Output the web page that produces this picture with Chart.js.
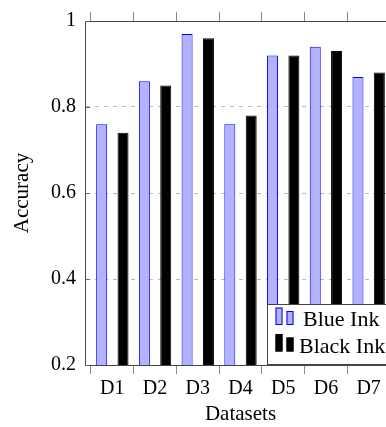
<!DOCTYPE html>
<html>
<head>
<meta charset="utf-8">
<script src="https://cdn.jsdelivr.net/npm/chart.js@4/dist/chart.umd.min.js"></script>
<style>
  html, body { margin: 0; padding: 0; background: #fff; overflow: hidden; }
  #wrap { width: 400px; height: 427px; }
</style>
</head>
<body>
<div id="wrap"><canvas id="accChart" width="400" height="427"></canvas></div>
<script>
const datasetNames = ["D1", "D2", "D3", "D4", "D5", "D6", "D7"];
const blueInk = [0.76, 0.86, 0.97, 0.76, 0.92, 0.94, 0.87];
const blackInk = [0.74, 0.85, 0.96, 0.78, 0.92, 0.93, 0.88];
const yTicks = [0.2, 0.4, 0.6, 0.8, 1];

const serif = "'Liberation Serif', 'Times New Roman', serif";
const xMin = -0.64, xMax = datasetNames.length - 1 + 0.64;

// tick marks sit between the categories; labels are shifted half a step onto them
const boundaries = datasetNames.map((d, i) => i - 0.5).concat([datasetNames.length - 0.5]);

function toPoints(values) {
    return values.map((v, i) => ({ x: i, y: v }));
}

// small inward ticks on the y axis
const innerTicks = {
    id: "innerTicks",
    afterDraw(chart) {
        const { ctx, chartArea } = chart;
        const y = chart.scales.y;
        ctx.save();
        ctx.strokeStyle = "#666";
        ctx.lineWidth = 1;
        y.ticks.forEach(t => {
            const py = Math.round(y.getPixelForValue(t.value)) + 0.5;
            ctx.beginPath();
            ctx.moveTo(chartArea.left, py);
            ctx.lineTo(chartArea.left + 5, py);
            ctx.stroke();
        });
        ctx.restore();
    }
};

// legend box in the lower right corner of the plot
const legendBox = {
    id: "legendBox",
    afterDraw(chart) {
        const { ctx, chartArea } = chart;
        const left = chartArea.right - 129;
        const top = chartArea.bottom - 61;
        ctx.save();
        ctx.fillStyle = "#fff";
        ctx.fillRect(left, top, 140, 60);
        ctx.strokeStyle = "#444";
        ctx.lineWidth = 1;
        ctx.strokeRect(left + 0.5, top + 0.5, 140, 60);
        const textX = [36, 32];
        chart.data.datasets.forEach((ds, i) => {
            const bottom = top + 21 + i * 26.5;
            ctx.fillStyle = ds.backgroundColor;
            ctx.strokeStyle = ds.borderColor;
            ctx.fillRect(left + 8.5, bottom - 17.5, 7, 17.5);
            ctx.strokeRect(left + 9, bottom - 17, 6, 16.5);
            ctx.fillRect(left + 19.5, bottom - 14, 7, 14);
            ctx.strokeRect(left + 20, bottom - 13.5, 6, 13);
            ctx.fillStyle = "#000";
            ctx.font = "22px " + serif;
            ctx.textBaseline = "alphabetic";
            ctx.fillText(ds.label, left + textX[i], bottom + 1);
        });
        ctx.restore();
    }
};

new Chart(document.getElementById("accChart"), {
    type: "bar",
    data: {
        datasets: [
            {
                label: "Blue Ink",
                data: toPoints(blueInk),
                backgroundColor: "rgb(178,178,255)",
                borderColor: "rgb(0,0,255)",
                borderWidth: 1,
                categoryPercentage: 1,
                barPercentage: 0.515
            },
            {
                label: "Black Ink",
                data: toPoints(blackInk),
                backgroundColor: "#000",
                borderColor: "#000",
                borderWidth: 1,
                categoryPercentage: 1,
                barPercentage: 0.515
            }
        ]
    },
    options: {
        responsive: false,
        animation: false,
        devicePixelRatio: 1,
        layout: { padding: { left: 0, right: 4, top: 0, bottom: 0 } },
        plugins: {
            legend: { display: false },
            tooltip: { enabled: false }
        },
        scales: {
            x: {
                type: "linear",
                position: "bottom",
                offset: false,
                min: xMin,
                max: xMax,
                afterBuildTicks: s => { s.ticks = boundaries.map(v => ({ value: v })); },
                afterFit: s => { s.height = 62; },
                border: { display: true, color: "#444", width: 1 },
                grid: {
                    offset: false,
                    drawOnChartArea: false,
                    drawTicks: true,
                    tickLength: 9,
                    tickColor: "#888"
                },
                ticks: {
                    autoSkip: false,
                    maxRotation: 0,
                    padding: 3,
                    labelOffset: 21.35,
                    color: "#000",
                    font: { family: serif, size: 20, lineHeight: 1.2 },
                    callback: (v, i) => datasetNames[i] || ""
                },
                title: {
                    display: true,
                    text: "Datasets",
                    color: "#000",
                    font: { family: serif, size: 21, lineHeight: 1.2 },
                    padding: { top: 0, bottom: 0 }
                }
            },
            xTop: {
                type: "linear",
                position: "top",
                offset: false,
                min: xMin,
                max: xMax,
                afterBuildTicks: s => { s.ticks = boundaries.map(v => ({ value: v })); },
                afterFit: s => { s.height = 17; },
                border: { display: true, color: "#444", width: 1 },
                grid: { offset: false, drawOnChartArea: false, drawTicks: true, tickLength: 9, tickColor: "#888" },
                ticks: { display: true, callback: () => "" }
            },
            y: {
                min: 0.2,
                max: 1,
                afterBuildTicks: s => { s.ticks = yTicks.map(v => ({ value: v })); },
                afterFit: s => { s.width = 85; },
                border: { display: true, color: "#444", width: 1, dash: [4, 5] },
                grid: {
                    drawTicks: false,
                    color: c => (c.tick !== undefined && (c.tick.value === 0.2 || c.tick.value === 1)) ? "rgba(0,0,0,0)" : "#bbb"
                },
                ticks: {
                    padding: 9,
                    color: "#000",
                    font: { family: serif, size: 20, lineHeight: 1.2 },
                    callback: v => String(v)
                },
                title: {
                    display: true,
                    text: "Accuracy",
                    color: "#000",
                    font: { family: serif, size: 21, lineHeight: 1.2 },
                    padding: { top: 10, bottom: 0 }
                }
            }
        }
    },
    plugins: [innerTicks, legendBox]
});
</script>
</body>
</html>
